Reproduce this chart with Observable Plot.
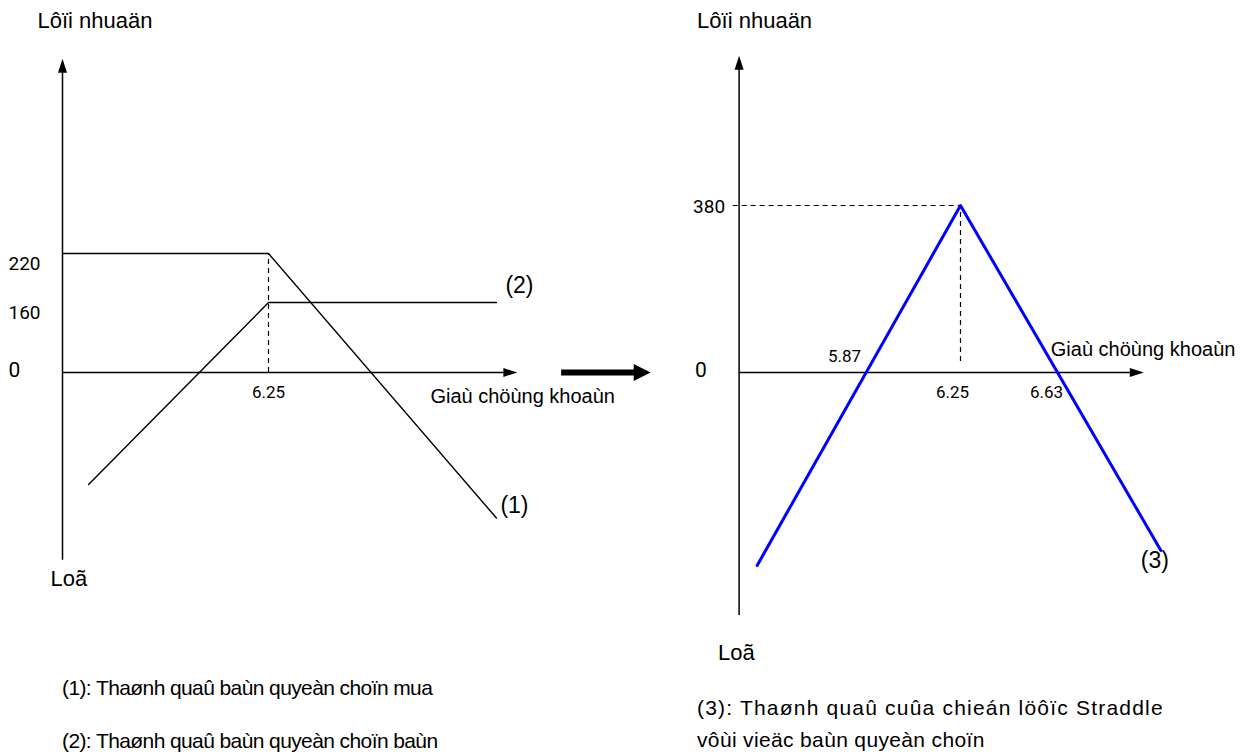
<!DOCTYPE html>
<html><head><meta charset="utf-8">
<script src="https://cdn.jsdelivr.net/npm/d3@7"></script>
<script src="https://cdn.jsdelivr.net/npm/@observablehq/plot@0.6"></script>
<style>
body{margin:0;background:#fff;width:1251px;height:754px;position:relative;overflow:hidden;font-family:"Liberation Sans",Arial,sans-serif;}
.layer{position:absolute;left:0;top:0;}
.cap{position:absolute;font-size:21px;line-height:21px;color:#000;white-space:nowrap;font-family:"Liberation Sans",Arial,sans-serif;}
</style></head><body>
<div id="left" class="layer"></div><div id="right" class="layer"></div>
<div id="caps"></div>
<script>
// ---- texts ----
const yAxisTitle = "Lôïi nhuaän";
const xAxisTitle = "Giaù chöùng khoaùn";
const lossLabel = "Loã";
const legendLeft = ["(1): Thaønh quaû baùn quyeàn choïn mua", "(2): Thaønh quaû baùn quyeàn choïn baùn"];
const legendRight = ["(3): Thaønh quaû cuûa chieán löôïc Straddle", "vôùi vieäc baùn quyeàn choïn"];

// ---- left panel data ----
const leftYTicks = [220, 160];
const leftZero = [0];
const leftXTicks = [6.25];
const leftXRange = [5.808, 6.784];   // price axis extent
const leftYRange = [-347, 580];      // profit axis extent
const callPrice = [5.808, 6.25, 6.739];
const callProfit = [220, 220, -269];
const putPrice = [5.864, 6.25, 6.25, 6.739];
const putProfit = [-207, 160, 160, 160];
const bigArrowX = [6.879, 7.07];

// ---- right panel data ----
const rightYTicks = [380];
const rightXTicksBelow = [6.25, 6.63];
const rightXTicksAbove = [5.87];
const rightXRange = [5.355, 6.991];
const rightYRange = [-553, 721];
const straddlePrice = [5.428, 6.25, 7.06];
const straddleProfit = [-439, 380, -405];

const zip = (xs, ys) => xs.map((x, i) => ({x, y: ys[i]}));

// the left sketch is not drawn to scale between 0 and 220
const leftWarp = d3.scaleLinear().domain([-2000, 0, 160, 220, 2000]).range([-2000, 0, 129.4, 220, 2000]);

// arrowheads with tip at the point, pointing up
const head = (w, l) => ({draw(ctx) { ctx.moveTo(0, 0); ctx.lineTo(-w / 2, l); ctx.lineTo(w / 2, l); ctx.closePath(); }});
const smallHead = head(9, 14);
const bigHead = head(17, 17);
const font = "Liberation Sans, Arial, sans-serif";
const numFont = "Liberation Sans Narrow, Roboto, Liberation Sans, sans-serif";

const left = Plot.plot({
  width: 1251, height: 754, margin: 0,
  style: {background: "transparent", fontFamily: font, overflow: "visible"},
  x: {domain: [5.808, 6.25], range: [62, 268], axis: null},
  y: {domain: [0, 220], range: [372, 253], transform: leftWarp, axis: null},
  marks: [
    Plot.ruleX([leftXRange[0]], {y1: leftYRange[0], y2: leftYRange[1] - 20, stroke: "black", strokeWidth: 1.5}),
    Plot.dot([{x: leftXRange[0], y: leftYRange[1]}], {x: "x", y: "y", symbol: smallHead, fill: "black", stroke: "none", r: 5}),
    Plot.ruleY(leftZero, {x1: leftXRange[0], x2: leftXRange[1] - 0.02, stroke: "black", strokeWidth: 1.5}),
    Plot.dot([{x: leftXRange[1], y: 0}], {x: "x", y: "y", symbol: smallHead, rotate: 90, fill: "black", stroke: "none", r: 5}),
    Plot.ruleX(leftXTicks, {y1: 0, y2: 220, stroke: "black", strokeDasharray: "5,4", strokeWidth: 1.2}),
    Plot.line(zip(callPrice, callProfit), {x: "x", y: "y", stroke: "black", strokeWidth: 1.4}),
    Plot.line(zip(putPrice, putProfit), {x: "x", y: "y", stroke: "black", strokeWidth: 1.4}),
    Plot.ruleY(leftZero, {x1: bigArrowX[0], x2: bigArrowX[1] - 0.03, stroke: "black", strokeWidth: 6}),
    Plot.dot([{x: bigArrowX[1], y: 0}], {x: "x", y: "y", symbol: bigHead, rotate: 90, fill: "black", stroke: "none", r: 8}),
    Plot.text(leftYTicks, {x: leftXRange[0], y: d => d, text: d => String(d), textAnchor: "start", dx: -54, dy: 10, fontSize: 19, fontFamily: numFont}),
    Plot.text(leftZero, {x: leftXRange[0], y: d => d, text: d => String(d), textAnchor: "start", dx: -54, dy: -2, fontSize: 21, fontFamily: numFont}),
    Plot.text(leftXTicks, {x: d => d, y: 0, text: d => d.toFixed(2), dy: 20, fontSize: 17, fontFamily: numFont}),
    Plot.text([xAxisTitle], {x: leftXRange[1], y: 0, text: d => d, textAnchor: "start", dx: -87, dy: 24, fontSize: 20}),
    Plot.text([yAxisTitle], {x: leftXRange[0], y: 649, text: d => d, textAnchor: "start", dx: -25, fontSize: 22}),
    Plot.text([lossLabel], {x: leftXRange[0], y: -381, text: d => d, textAnchor: "start", dx: -12, fontSize: 22}),
    Plot.text(["(1)"], {x: callPrice[2], y: callProfit[2], text: d => d, textAnchor: "start", dx: 4, dy: -12, fontSize: 23}),
    Plot.text(["(2)"], {x: putPrice[3], y: putProfit[3], text: d => d, textAnchor: "start", dx: 9, dy: -17, fontSize: 23})
  ]
});
document.getElementById("left").append(left);

const right = Plot.plot({
  width: 1251, height: 754, margin: 0,
  style: {background: "transparent", fontFamily: font, overflow: "visible"},
  x: {domain: [5.87, 6.63], range: [866, 1054], axis: null},
  y: {domain: [0, 380], range: [372, 205], axis: null},
  marks: [
    Plot.ruleX([rightXRange[0]], {y1: rightYRange[0], y2: rightYRange[1] - 30, stroke: "black", strokeWidth: 1.5}),
    Plot.dot([{x: rightXRange[0], y: rightYRange[1]}], {x: "x", y: "y", symbol: smallHead, fill: "black", stroke: "none", r: 5}),
    Plot.ruleY([0], {x1: rightXRange[0], x2: rightXRange[1] - 0.04, stroke: "black", strokeWidth: 1.5}),
    Plot.dot([{x: rightXRange[1], y: 0}], {x: "x", y: "y", symbol: smallHead, rotate: 90, fill: "black", stroke: "none", r: 5}),
    Plot.ruleY(rightYTicks, {x1: 5.331, x2: 6.25, stroke: "black", strokeDasharray: "5,4", strokeWidth: 1.2}),
    Plot.ruleX([6.25], {y1: 25, y2: 380, stroke: "black", strokeDasharray: "5,4", strokeWidth: 1.2}),
    Plot.line(zip(straddlePrice, straddleProfit), {x: "x", y: "y", stroke: "#0000ff", strokeWidth: 3}),
    Plot.text(rightYTicks, {x: rightXRange[0], y: d => d, text: d => String(d), textAnchor: "end", dx: -14, dy: 1, fontSize: 19, fontFamily: numFont}),
    Plot.text([0], {x: rightXRange[0], y: d => d, text: d => String(d), textAnchor: "start", dx: -44, dy: -2, fontSize: 21, fontFamily: numFont}),
    Plot.text(rightXTicksBelow, {x: d => d, y: 0, text: d => d.toFixed(2), dy: 20, dx: -8, fontSize: 17, fontFamily: numFont}),
    Plot.text(rightXTicksAbove, {x: d => d, y: 0, text: d => d.toFixed(2), dy: -16, dx: -22, fontSize: 17, fontFamily: numFont}),
    Plot.text([xAxisTitle], {x: rightXRange[1], y: 0, text: d => d, textAnchor: "start", dx: -93, dy: -23, fontSize: 20}),
    Plot.text([yAxisTitle], {x: rightXRange[0], y: 800, text: d => d, textAnchor: "start", dx: -42, dy: 0, fontSize: 22}),
    Plot.text([lossLabel], {x: rightXRange[0], y: -639, text: d => d, textAnchor: "start", dx: -21, fontSize: 22}),
    Plot.text(["(3)"], {x: straddlePrice[2], y: straddleProfit[2], text: d => d, textAnchor: "start", dx: -20, dy: 10, fontSize: 23})
  ]
});
document.getElementById("right").append(right);

const caps = document.getElementById("caps");
const addCap = (t, x, yc, ls) => { const d = document.createElement("div"); d.className = "cap"; d.textContent = t; d.style.left = x + "px"; d.style.top = (yc - 11) + "px"; d.style.letterSpacing = ls + "px"; caps.append(d); };
addCap(legendLeft[0], 62, 688, -0.6);
addCap(legendLeft[1], 62, 741, -0.6);
addCap(legendRight[0], 697, 708, 1.2);
addCap(legendRight[1], 697, 740, 0.35);
</script>
</body></html>
